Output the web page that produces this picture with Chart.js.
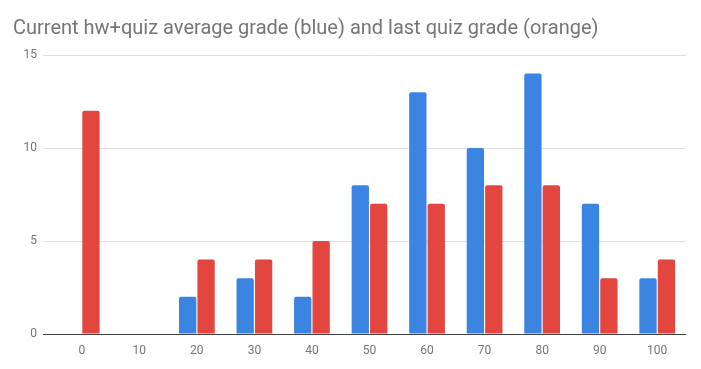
<!DOCTYPE html>
<html>
<head>
<meta charset="utf-8">
<script src="https://cdn.jsdelivr.net/npm/chart.js@4.4.1/dist/chart.umd.min.js"></script>
<style>
  html, body { margin: 0; padding: 0; background: #fff; }
  #wrap { width: 701px; height: 369px; position: relative; }
</style>
</head>
<body>
<div id="wrap"><canvas id="chart"></canvas></div>
<script>
const TITLE = "Current hw+quiz average grade (blue) and last quiz grade (orange)";
const grades = ["0", "10", "20", "30", "40", "50", "60", "70", "80", "90", "100"];
const avgGrade = [0, 0, 2, 3, 2, 8, 13, 10, 14, 7, 3];
const lastQuiz = [12, 0, 4, 4, 5, 7, 7, 8, 8, 3, 4];
const yTicks = [0, 5, 10, 15];

const FONT = "Roboto, 'Noto Sans', sans-serif";

function lineColor(ctx) {
  return ctx.tick && ctx.tick.value === 0 ? "#444444" : "#e0e0e0";
}

new Chart(document.getElementById("chart"), {
  type: "bar",
  data: {
    labels: grades,
    datasets: [
      {
        label: "avg",
        data: avgGrade,
        backgroundColor: "#3c84e2",
        borderRadius: { topLeft: 2, topRight: 2 },
        borderSkipped: "bottom",
        categoryPercentage: 0.64,
        barPercentage: 0.94
      },
      {
        label: "last",
        data: lastQuiz,
        backgroundColor: "#e3463f",
        borderRadius: { topLeft: 2, topRight: 2 },
        borderSkipped: "bottom",
        categoryPercentage: 0.64,
        barPercentage: 0.94
      }
    ]
  },
  options: {
    responsive: true,
    maintainAspectRatio: false,
    animation: false,
    layout: { padding: { left: 13, right: 15, top: 17, bottom: 0 } },
    plugins: {
      legend: { display: false },
      tooltip: { enabled: false },
      title: {
        display: true,
        text: TITLE,
        align: "start",
        color: "#757575",
        font: { family: FONT, size: 20, weight: "normal" },
        padding: { top: 0, bottom: 14 }
      }
    },
    scales: {
      x: {
        grid: { display: false, drawTicks: false },
        border: { display: false },
        ticks: {
          color: "#757575",
          padding: 10,
          font: { family: FONT, size: 12 }
        },
        afterFit: (s) => { s.height = 35; }
      },
      y: {
        min: 0,
        max: 15,
        afterBuildTicks: (s) => { s.ticks = yTicks.map((v) => ({ value: v })); },
        grid: {
          color: lineColor,
          tickColor: lineColor,
          tickLength: 10
        },
        border: { display: false },
        ticks: {
          color: "#757575",
          padding: 6,
          font: { family: FONT, size: 12 }
        },
        afterFit: (s) => { s.width = 40; }
      }
    }
  }
});
</script>
</body>
</html>
